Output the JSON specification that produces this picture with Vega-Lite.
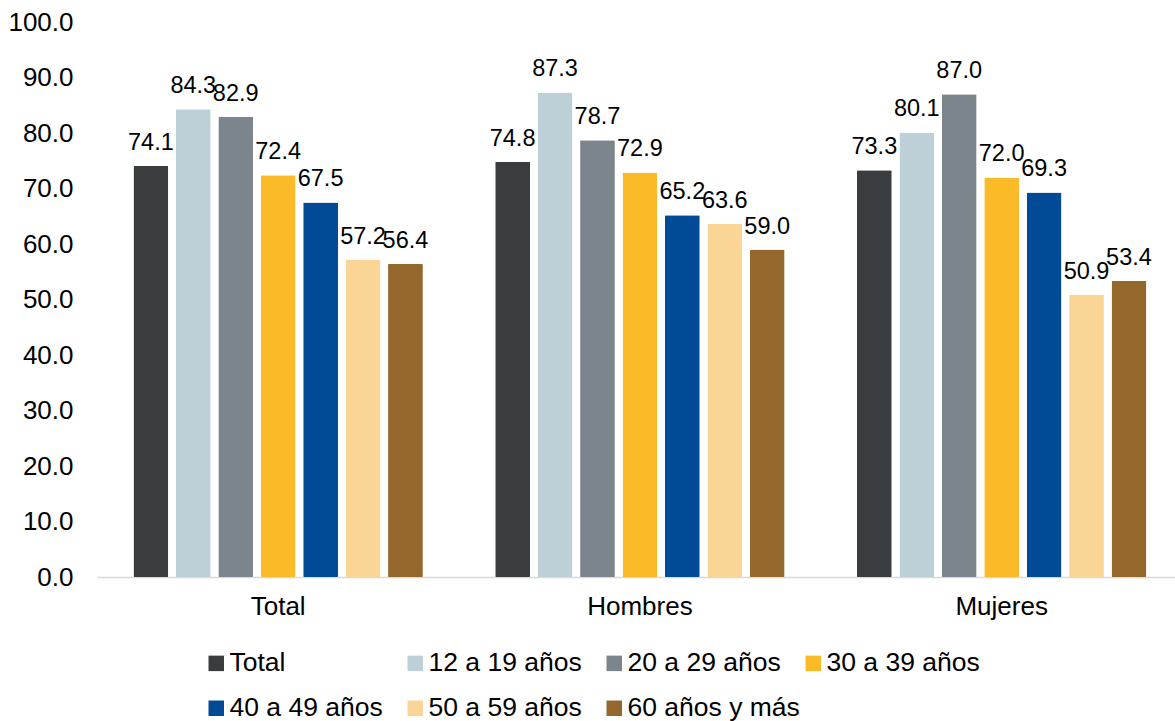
{
  "$schema": "https://vega.github.io/schema/vega-lite/v6.json",
  "width": 1078,
  "height": 555,
  "autosize": "none",
  "padding": {"left": 97, "top": 22, "right": 0, "bottom": 144},
  "background": "white",
  "config": {
    "view": {"stroke": null},
    "font": "Liberation Sans",
    "text": {"font": "Liberation Sans"}
  },
  "data": {
    "values": [
      {"grupo": "Total", "serie": "Total", "valor": 74.1},
      {"grupo": "Total", "serie": "12 a 19 años", "valor": 84.3},
      {"grupo": "Total", "serie": "20 a 29 años", "valor": 82.9},
      {"grupo": "Total", "serie": "30 a 39 años", "valor": 72.4},
      {"grupo": "Total", "serie": "40 a 49 años", "valor": 67.5},
      {"grupo": "Total", "serie": "50 a 59 años", "valor": 57.2},
      {"grupo": "Total", "serie": "60 años y más", "valor": 56.4},
      {"grupo": "Hombres", "serie": "Total", "valor": 74.8},
      {"grupo": "Hombres", "serie": "12 a 19 años", "valor": 87.3},
      {"grupo": "Hombres", "serie": "20 a 29 años", "valor": 78.7},
      {"grupo": "Hombres", "serie": "30 a 39 años", "valor": 72.9},
      {"grupo": "Hombres", "serie": "40 a 49 años", "valor": 65.2},
      {"grupo": "Hombres", "serie": "50 a 59 años", "valor": 63.6},
      {"grupo": "Hombres", "serie": "60 años y más", "valor": 59.0},
      {"grupo": "Mujeres", "serie": "Total", "valor": 73.3},
      {"grupo": "Mujeres", "serie": "12 a 19 años", "valor": 80.1},
      {"grupo": "Mujeres", "serie": "20 a 29 años", "valor": 87.0},
      {"grupo": "Mujeres", "serie": "30 a 39 años", "valor": 72.0},
      {"grupo": "Mujeres", "serie": "40 a 49 años", "valor": 69.3},
      {"grupo": "Mujeres", "serie": "50 a 59 años", "valor": 50.9},
      {"grupo": "Mujeres", "serie": "60 años y más", "valor": 53.4}
    ]
  },
  "encoding": {
    "x": {
      "field": "grupo",
      "type": "nominal",
      "sort": ["Total", "Hombres", "Mujeres"],
      "scale": {"paddingInner": 0.2, "paddingOuter": 0.09, "align": 0.56},
      "axis": {
        "title": null,
        "labelAngle": 0,
        "labelFontSize": 26,
        "labelColor": "#000000",
        "labelPadding": 16,
        "ticks": false,
        "domainColor": "#d9d9d9",
        "domainWidth": 1.5,
        "grid": false
      }
    },
    "xOffset": {
      "field": "serie",
      "type": "nominal",
      "sort": ["Total", "12 a 19 años", "20 a 29 años", "30 a 39 años", "40 a 49 años", "50 a 59 años", "60 años y más"],
      "scale": {"paddingInner": 0.18, "paddingOuter": 0}
    },
    "y": {
      "field": "valor",
      "type": "quantitative",
      "scale": {"domain": [0, 100]},
      "axis": {
        "title": null,
        "values": [0, 10, 20, 30, 40, 50, 60, 70, 80, 90, 100],
        "format": ".1f",
        "labelFontSize": 26,
        "labelColor": "#000000",
        "labelPadding": 24,
        "ticks": false,
        "domain": false,
        "grid": false
      }
    }
  },
  "layer": [
    {
      "mark": {"type": "bar", "cornerRadius": 1},
      "encoding": {
        "color": {
          "field": "serie",
          "type": "nominal",
          "sort": ["Total", "12 a 19 años", "20 a 29 años", "30 a 39 años", "40 a 49 años", "50 a 59 años", "60 años y más"],
          "scale": {
            "domain": ["Total", "12 a 19 años", "20 a 29 años", "30 a 39 años", "40 a 49 años", "50 a 59 años", "60 años y más"],
            "range": ["#3a3d40", "#bdd0d8", "#7b858b", "#fbba28", "#004a96", "#fad596", "#94672c"]
          },
          "legend": {
            "title": null,
            "orient": "none",
            "legendX": 106,
            "legendY": 628,
            "direction": "horizontal",
            "columns": 4,
            "gridAlign": "all",
            "columnPadding": 0,
            "rowPadding": 18,
            "symbolType": "square",
            "symbolSize": 240,
            "symbolStrokeWidth": 0,
            "labelFontSize": 26.5,
            "labelColor": "#000000",
            "labelOffset": 0,
            "labelLimit": 300
          }
        }
      }
    },
    {
      "mark": {"type": "text", "baseline": "alphabetic", "dy": -16, "fontSize": 23.5, "color": "#000000"},
      "encoding": {
        "text": {"field": "valor", "type": "quantitative", "format": ".1f"}
      }
    }
  ]
}
